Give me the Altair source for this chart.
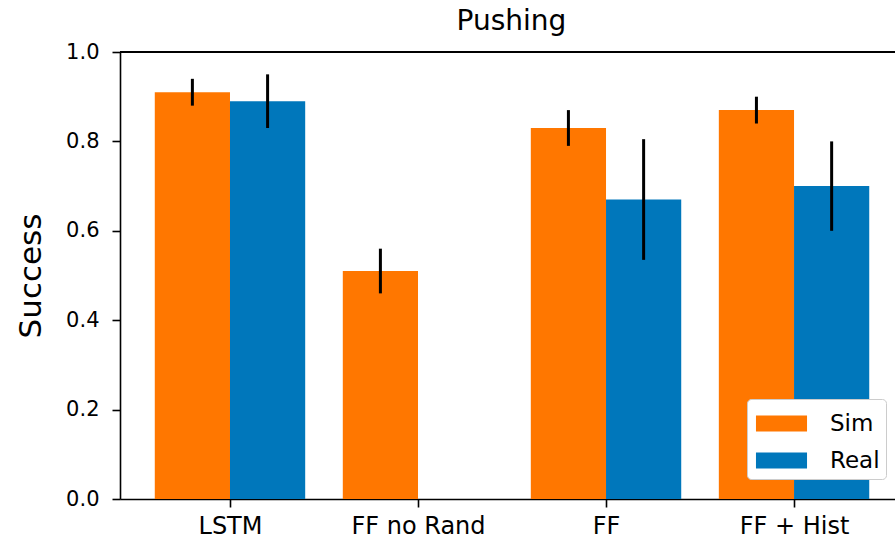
import json
import altair as alt
import pandas as pd

categories = ["LSTM", "FF no Rand", "FF", "FF + Hist"]
series = ["Sim", "Real"]
sim_values = [0.91, 0.51, 0.83, 0.87]
sim_errors = [0.03, 0.05, 0.04, 0.03]
real_values = [0.89, 0.0, 0.67, 0.70]
real_errors = [0.06, None, 0.135, 0.10]
colors = ["#ff7700", "#0077bb"]
y_ticks = [0.0, 0.2, 0.4, 0.6, 0.8, 1.0]

rows = []
for i, cat in enumerate(categories):
    for s, vals, errs in (("Sim", sim_values, sim_errors), ("Real", real_values, real_errors)):
        rows.append({"category": cat, "idx": i, "series": s,
                     "value": vals[i], "err": errs[i]})
df = pd.DataFrame(rows)

FONT = "DejaVu Sans"
BAR_W = 0.4

base = alt.Chart(df).transform_calculate(
    center="datum.idx + (datum.series == 'Sim' ? -0.2 : 0.2)",
    left=f"datum.idx + (datum.series == 'Sim' ? -0.2 : 0.2) - {BAR_W / 2}",
    right=f"datum.idx + (datum.series == 'Sim' ? -0.2 : 0.2) + {BAR_W / 2}",
    lo="datum.value - datum.err",
    hi="datum.value + datum.err",
)

xscale = alt.Scale(domain=[-0.585, 3.537], nice=False, zero=False)
yscale = alt.Scale(domain=[0, 1], nice=False, padding=0)

label_expr = f"{json.dumps(categories)}[datum.value]"

bars = base.transform_filter("datum.value > 0").mark_bar().encode(
    x=alt.X("left:Q", scale=xscale,
            axis=alt.Axis(values=[0, 1, 2, 3], labelExpr=label_expr, title=None,
                          grid=False, tickSize=8, tickWidth=1.6, tickColor="black",
                          domainColor="black", domainWidth=1.6, labelFont=FONT,
                          labelFontSize=24, labelColor="black", labelPadding=7,
                          labelFlush=False, labelOverlap=False)),
    x2="right:Q",
    y=alt.Y("value:Q", scale=yscale,
            axis=alt.Axis(values=y_ticks, format=".1f", grid=False, tickSize=8,
                          tickWidth=1.6, tickColor="black", domainColor="black",
                          domainWidth=1.6, labelFont=FONT, labelFontSize=21,
                          labelColor="black", labelPadding=13, title="Success",
                          titleFont=FONT, titleFontSize=31, titleFontWeight="normal",
                          titleColor="black", titlePadding=18)),
    y2=alt.datum(0),
    color=alt.Color("series:N", scale=alt.Scale(domain=series, range=colors),
                    legend=alt.Legend(
                        title=None, orient="none", legendX=627, legendY=347,
                        symbolType="M-1.38,-0.43L1.38,-0.43L1.38,0.43L-1.38,0.43Z",
                        symbolSize=1369, symbolStrokeWidth=0, symbolOffset=10,
                        labelFont=FONT, labelFontSize=23, labelColor="black",
                        labelOffset=30, rowPadding=6, padding=6,
                        fillColor="white", strokeColor="#cccccc", cornerRadius=4)),
)

errs = base.transform_filter("isValid(datum.err)").mark_rule(
    color="black", strokeWidth=3
).encode(
    x=alt.X("center:Q", scale=xscale),
    y=alt.Y("lo:Q", scale=yscale),
    y2="hi:Q",
)

top_spine = alt.Chart(df).mark_rule(color="black", strokeWidth=1.6).encode(
    y=alt.datum(1.0, scale=yscale)
)

chart = alt.layer(bars, errs, top_spine).properties(
    width=775,
    height=447,
    title=alt.TitleParams("Pushing", font=FONT, fontSize=28, fontWeight="normal",
                          color="black", offset=5, dx=4),
    autosize=alt.AutoSizeParams(type="none"),
    padding={"left": 120, "top": 52, "right": 0, "bottom": 40},
).configure_view(stroke=None).configure(background="white")

chart.save("out.html", embed_options={"renderer": "svg", "actions": False})
